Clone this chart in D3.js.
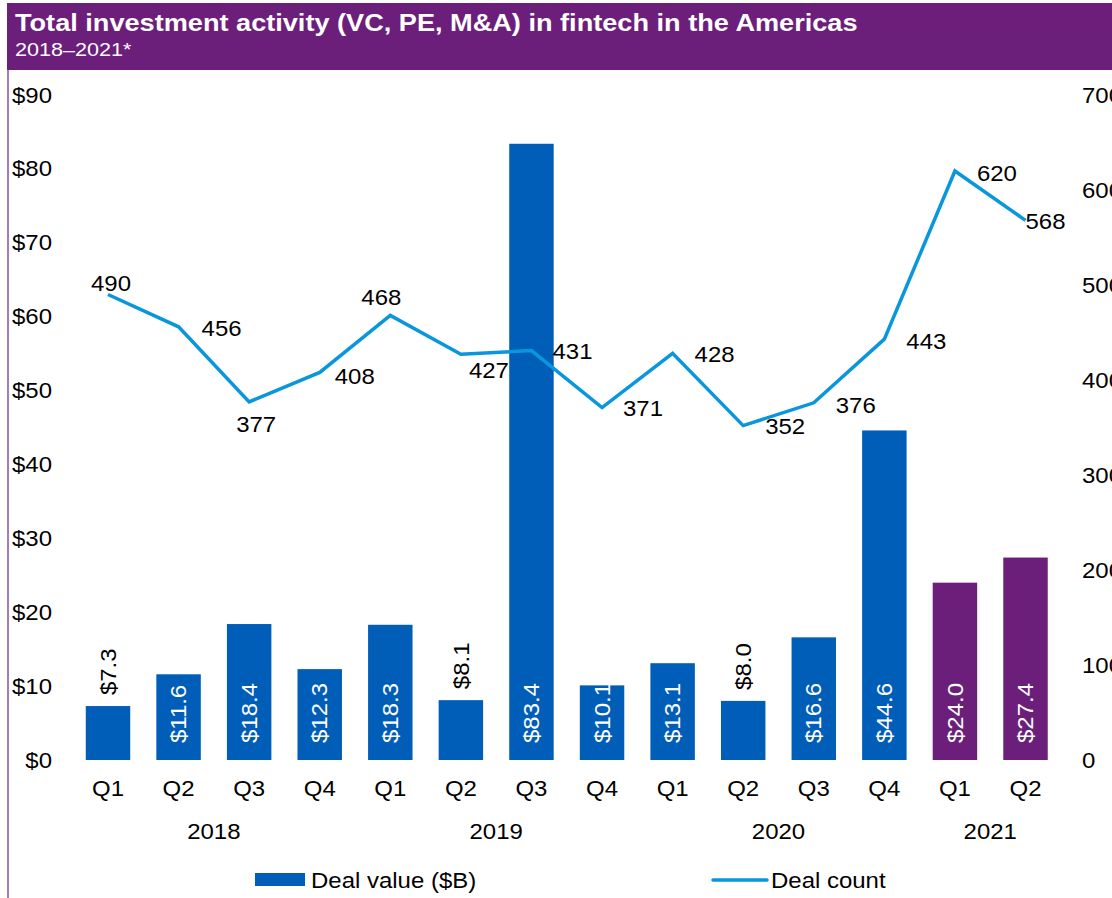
<!DOCTYPE html>
<meta charset="utf-8">
<script src="https://d3js.org/d3.v7.min.js"></script>
<style>
  body { margin: 0; background: #fff; }
  text { font-family: "Liberation Sans", Arial, sans-serif; }
</style>
<body>
  <div id="chart"></div>
</body>
<script>
  // chart data
  var quarters = ["Q1", "Q2", "Q3", "Q4", "Q1", "Q2", "Q3", "Q4", "Q1", "Q2", "Q3", "Q4", "Q1", "Q2"];
  var years = ["2018", "2018", "2018", "2018", "2019", "2019", "2019", "2019",
               "2020", "2020", "2020", "2020", "2021", "2021"];
  var dealValue = [7.3, 11.6, 18.4, 12.3, 18.3, 8.1, 83.4, 10.1, 13.1, 8.0, 16.6, 44.6, 24.0, 27.4];
  var dealCount = [490, 456, 377, 408, 468, 427, 431, 371, 428, 352, 376, 443, 620, 568];
  var valueTicks = [0, 10, 20, 30, 40, 50, 60, 70, 80, 90];
  var countTicks = [0, 100, 200, 300, 400, 500, 600, 700];

  // where each deal count label sits relative to its point (dx, dy)
  var countLabelOffset = [[3, -11], [43, 1], [7, 22], [35, 4], [-9, -18], [28, 16], [41, 1],
                          [41, 1], [42, 1], [42, 1], [42, 2], [42, 2], [42, 2], [20, 1]];

  var width = 1112, height = 898;
  var blue = "#005eb8", purple = "#6b1f7b", lineBlue = "#0a96dc";
  var wide = 1.09;   // the source font runs a bit wider than Arial

  var svg = d3.select("#chart").append("svg")
    .attr("width", width)
    .attr("height", height);

  // plain text at (x, y), stretched sideways by k
  function label(parent, x, y, k, str) {
    return parent.append("text")
      .attr("transform", "translate(" + x + "," + y + ") scale(" + k + ",1)")
      .text(str);
  }

  // header band
  svg.append("rect")
    .attr("x", 7).attr("y", 3)
    .attr("width", width - 7).attr("height", 67)
    .attr("fill", purple);
  svg.append("line")
    .attr("x1", 8).attr("x2", 8)
    .attr("y1", 70).attr("y2", height)
    .attr("stroke", "#a47cba").attr("stroke-width", 2);

  label(svg, 15, 31, 1.18, "Total investment activity (VC, PE, M&A) in fintech in the Americas")
    .attr("fill", "#fff")
    .style("font-size", "23px").style("font-weight", "bold");
  label(svg, 15, 56, 1.2, "2018–2021*")
    .attr("fill", "#fff")
    .style("font-size", "18px");

  var keys = quarters.map(function(q, i) { return years[i] + " " + q; });

  var x = d3.scaleBand()
    .domain(keys)
    .range([72.7, 1060.8])
    .paddingInner(0.37)
    .paddingOuter(0.185);

  var yL = d3.scaleLinear().domain([0, 90]).range([760, 95]);
  var yR = d3.scaleLinear().domain([0, 700]).range([760, 95]);

  // axes
  var leftAxis = svg.append("g")
    .attr("transform", "translate(52,0)")
    .call(d3.axisLeft(yL).tickValues(valueTicks).tickSize(0).tickPadding(0)
      .tickFormat(function(d) { return "$" + d; }));
  var rightAxis = svg.append("g")
    .attr("transform", "translate(1082,0)")
    .call(d3.axisRight(yR).tickValues(countTicks).tickSize(0).tickPadding(0));

  var bottomAxis = svg.append("g")
    .attr("transform", "translate(0,760)")
    .call(d3.axisBottom(x).tickSize(0).tickPadding(0)
      .tickFormat(function(d, i) { return quarters[i]; }));
  bottomAxis.selectAll("text").attr("y", 28).attr("dy", "0.35em");

  [leftAxis, rightAxis, bottomAxis].forEach(function(g) {
    g.select(".domain").remove();
    g.selectAll("text")
      .attr("transform", "scale(" + wide + ",1)")
      .style("font-size", "22px")
      .style("font-family", "'Liberation Sans', Arial, sans-serif")
      .attr("fill", "#000");
  });

  // year labels centred under their quarters
  var yearNames = Array.from(new Set(years));
  yearNames.forEach(function(yr) {
    var ks = keys.filter(function(k, i) { return years[i] === yr; });
    var cx = (x(ks[0]) + x(ks[ks.length - 1]) + x.bandwidth()) / 2;
    label(svg, cx, 831, wide, yr)
      .attr("dy", "0.35em")
      .attr("text-anchor", "middle")
      .style("font-size", "22px");
  });

  // bars
  svg.selectAll(".bar")
    .data(dealValue)
    .join("rect")
      .attr("class", "bar")
      .attr("x", function(d, i) { return x(keys[i]); })
      .attr("y", function(d) { return yL(d); })
      .attr("width", x.bandwidth())
      .attr("height", function(d) { return yL(0) - yL(d); })
      .attr("fill", function(d, i) { return years[i] === "2021" ? purple : blue; });

  svg.selectAll(".barLabel")
    .data(dealValue)
    .join("text")
      .attr("class", "barLabel")
      .attr("transform", function(d, i) {
        var cx = x(keys[i]) + x.bandwidth() / 2;
        var y0 = d < 10 ? yL(d) - 11 : yL(0) - 17;
        return "translate(" + cx + "," + y0 + ") rotate(-90) scale(" + wide + ",1)";
      })
      .attr("dy", "0.35em")
      .attr("fill", function(d) { return d < 10 ? "#000" : "#fff"; })
      .style("font-size", "22px")
      .text(function(d) { return "$" + d.toFixed(1); });

  // deal count line
  var line = d3.line()
    .x(function(d, i) { return x(keys[i]) + x.bandwidth() / 2; })
    .y(function(d) { return yR(d); });

  svg.append("path")
    .datum(dealCount)
    .attr("d", line)
    .attr("fill", "none")
    .attr("stroke", lineBlue)
    .attr("stroke-width", 3.5)
    .attr("stroke-linejoin", "miter");

  dealCount.forEach(function(d, i) {
    var cx = x(keys[i]) + x.bandwidth() / 2 + countLabelOffset[i][0];
    var cy = yR(d) + countLabelOffset[i][1];
    label(svg, cx, cy, wide, d)
      .attr("dy", "0.35em")
      .attr("text-anchor", "middle")
      .style("font-size", "22px");
  });

  // legend
  svg.append("rect")
    .attr("x", 255).attr("y", 873)
    .attr("width", 50).attr("height", 13)
    .attr("fill", blue);
  label(svg, 311, 880, wide, "Deal value ($B)")
    .attr("dy", "0.35em")
    .style("font-size", "22px");
  svg.append("line")
    .attr("x1", 713).attr("x2", 767)
    .attr("y1", 880).attr("y2", 880)
    .attr("stroke", lineBlue).attr("stroke-width", 3.5)
    .attr("stroke-linecap", "round");
  label(svg, 771, 880, wide, "Deal count")
    .attr("dy", "0.35em")
    .style("font-size", "22px");
</script>
